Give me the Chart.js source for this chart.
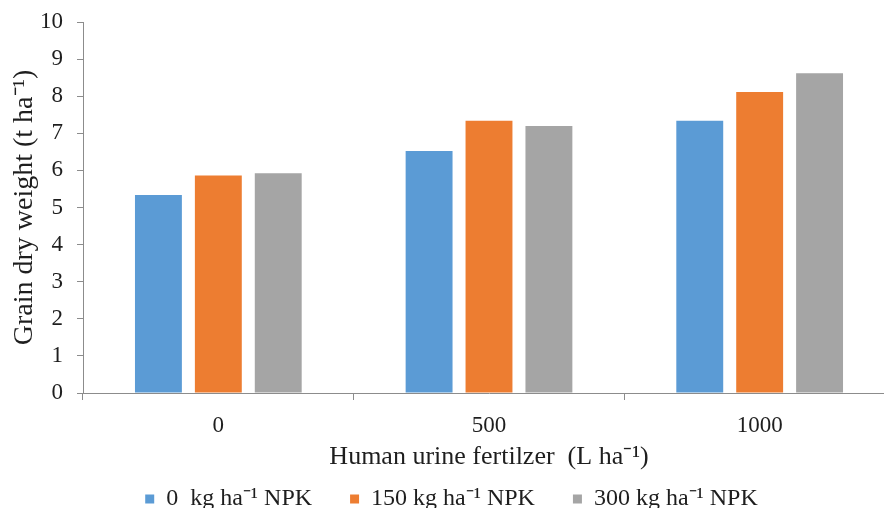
<!DOCTYPE html>
<html><head><meta charset="utf-8">
<script src="https://cdn.jsdelivr.net/npm/chart.js@4"></script>
<style>html,body{margin:0;padding:0;overflow:hidden;background:#fff}#wrap{position:absolute;left:0;top:0;width:900px;height:560px}</style>
</head><body><div id="wrap"><canvas id="c" width="900" height="560"></canvas></div>
<script>
const categories = ['0', '500', '1000'];
const seriesNames = ['0  kg ha\u207B\u00B9 NPK', '150 kg ha\u207B\u00B9 NPK', '300 kg ha\u207B\u00B9 NPK'];
const npk0 = [5.34, 6.52, 7.34];
const npk150 = [5.86, 7.34, 8.11];
const npk300 = [5.92, 7.20, 8.62];
const yTickValues = [0, 1, 2, 3, 4, 5, 6, 7, 8, 9, 10];
const xTitle = 'Human urine fertilzer  (L ha\u207B\u00B9)';
const yTitle = 'Grain dry weight (t ha\u207B\u00B9)';

const colors = ['#5B9BD5', '#ED7D31', '#A5A5A5'];
const FONT = "'Liberation Serif', 'Times New Roman', serif";
const AXIS = '#8c8c8c';
const TEXT = '#1e1e1e';

const legendShift = {
  id: 'legendShift',
  afterLayout(chart) {
    const l = chart.legend;
    if (!l) return;
    const target = chart.chartArea.bottom + 56;
    const d = target - l.top;
    l.top += d; l.bottom += d;
    l.left += 4; l.right += 4;
  }
};

new Chart(document.getElementById('c'), {
  type: 'bar',
  data: {
    labels: categories,
    datasets: [npk0, npk150, npk300].map((d, i) => ({
      label: seriesNames[i],
      data: d,
      backgroundColor: colors[i],
      borderWidth: 0,
      categoryPercentage: 0.664,
      barPercentage: 0.783
    }))
  },
  options: {
    responsive: false,
    animation: false,
    devicePixelRatio: 1,
    layout: { padding: { left: 0, right: 5, top: 22, bottom: 13 } },
    plugins: {
      tooltip: { enabled: false },
      legend: {
        position: 'bottom',
        labels: {
          font: { family: FONT, size: 24 },
          color: TEXT,
          boxWidth: 9,
          boxHeight: 9,
          padding: 38
        }
      }
    },
    scales: {
      x: {
        afterFit(s) { s.height = 82; },
        grid: { display: true, drawOnChartArea: false, offset: true, tickLength: 7, color: AXIS },
        border: { color: AXIS, width: 1 },
        ticks: { font: { family: FONT, size: 23 }, color: TEXT, padding: 12, maxRotation: 0 },
        title: { display: true, text: xTitle, font: { family: FONT, size: 26 }, color: TEXT, padding: { top: 0, bottom: 2 } }
      },
      y: {
        min: 0, max: 10,
        afterFit(s) { s.width = 83; s.paddingTop = 0; s.paddingBottom = 0; },
        afterBuildTicks(s) { s.ticks = yTickValues.map(v => ({ value: v })); },
        grid: { display: true, drawOnChartArea: false, tickLength: 6, color: AXIS },
        border: { color: AXIS, width: 1 },
        ticks: { font: { family: FONT, size: 23 }, color: TEXT, padding: 14 },
        title: { display: true, text: yTitle, font: { family: FONT, size: 28 }, color: TEXT, padding: { top: 8, bottom: 0 } }
      }
    }
  },
  plugins: [legendShift]
});
</script>
</body></html>
